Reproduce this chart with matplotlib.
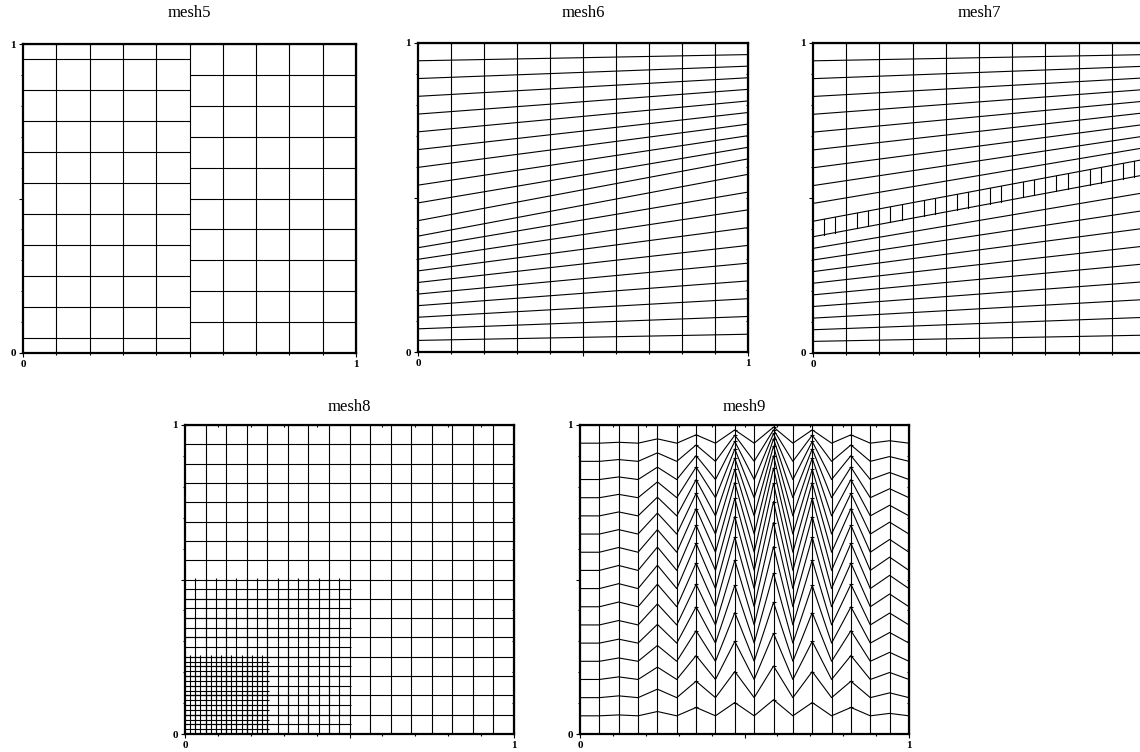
import numpy as np
import matplotlib.pyplot as plt

plt.rcParams['font.family'] = ['Liberation Serif', 'DejaVu Serif']

W, H = 1140, 752

# mesh5: two non-matching halves
mesh5_split = 0.5
mesh5_cols_left = [0.1, 0.2, 0.3, 0.4]
mesh5_cols_right = [0.6, 0.7, 0.8, 0.9]
mesh5_rows_left = [0.05, 0.15, 0.25, 0.35, 0.45, 0.55, 0.65, 0.75, 0.85, 0.95]
mesh5_rows_right = [0.1, 0.2, 0.3, 0.4, 0.5, 0.6, 0.7, 0.8, 0.9]

# mesh6 / mesh7: oblique thin layer between two sloped lines
oblique_cols = 10
band_left = (0.375, 0.425)
band_right = (0.575, 0.625)
cells_below = 10
cells_above = 10
band_subdiv = 3          # mesh7 splits each layer cell in three

# mesh8: nested local refinement (cells per side, extent of the patch)
mesh8_levels = [(16, 1.0), (32, 0.5), (64, 0.25)]

# mesh9: zigzag, amplitude of the vertical node shift on each vertical line
# (shift = amplitude * sin(pi*y), so it vanishes on the top/bottom sides)
mesh9_n = 17
mesh9_amp = [0, 0, 0.016, 0, 0.076, 0, 0.147, 0, 0.234, 0,
             0.283, 0, 0.234, 0, 0.147, 0, 0.043, 0]

# pixel boxes (left, top, right, bottom) and title centres
boxes = {
    'mesh5': (23, 44, 356, 353),
    'mesh6': (418, 43, 748, 352),
    'mesh7': (813, 43, 1145, 353),
    'mesh8': (185, 425, 514, 734),
    'mesh9': (580, 425, 909, 734),
}
title_y = {'mesh5': 13, 'mesh6': 13, 'mesh7': 13, 'mesh8': 407, 'mesh9': 407}

LW = 0.8
LC = 'black'

fig = plt.figure(figsize=(W / 100, H / 100), dpi=100)


def make_axes(name, xlabels=('0', '', '1')):
    l, t, r, b = boxes[name]
    ax = fig.add_axes([l / W, 1 - b / H, (r - l) / W, (b - t) / H])
    ax.set_xlim(0, 1)
    ax.set_ylim(0, 1)
    minor = np.round(np.arange(0, 1.01, 0.1), 2)
    ax.set_xticks([0, 0.5, 1], list(xlabels))
    ax.set_yticks([0, 0.5, 1], ['0', '', '1'])
    ax.set_xticks(minor, minor=True)
    ax.set_yticks(minor, minor=True)
    ax.tick_params(which='major', length=3.2, width=0.8, direction='out',
                   labelsize=8, pad=2)
    ax.tick_params(which='minor', length=1.5, width=0.8, direction='out')
    for lab in ax.get_xticklabels() + ax.get_yticklabels():
        lab.set_fontweight('bold')
    for s in ax.spines.values():
        s.set_linewidth(1.6)
    # inward ticks on the top and right sides
    top = ax.secondary_xaxis('top')
    top.set_xticks(minor)
    top.tick_params(direction='in', length=1.5, width=0.8, labeltop=False)
    right = ax.secondary_yaxis('right')
    right.set_yticks(minor)
    right.tick_params(direction='in', length=1.5, width=0.8, labelright=False)
    fig.text((l + r) / 2 / W, 1 - title_y[name] / H, name,
             ha='center', va='center', fontsize=12)
    return ax


# mesh5
ax = make_axes('mesh5')
ax.vlines(mesh5_split, 0, 1, color=LC, lw=LW)
ax.vlines(mesh5_cols_left, 0, 1, color=LC, lw=LW)
ax.vlines(mesh5_cols_right, 0, 1, color=LC, lw=LW)
ax.hlines(mesh5_rows_left, 0, mesh5_split, color=LC, lw=LW)
ax.hlines(mesh5_rows_right, mesh5_split, 1, color=LC, lw=LW)


def oblique(ax, layered):
    xs = np.linspace(0, 1, oblique_cols + 1)
    ax.vlines(xs[1:-1], 0, 1, color=LC, lw=LW)
    lo_l = np.linspace(0, band_left[0], cells_below + 1)[1:]
    lo_r = np.linspace(0, band_right[0], cells_below + 1)[1:]
    up_l = np.linspace(band_left[1], 1, cells_above + 1)[:-1]
    up_r = np.linspace(band_right[1], 1, cells_above + 1)[:-1]
    for yl, yr in zip(np.r_[lo_l, up_l], np.r_[lo_r, up_r]):
        ax.plot([0, 1], [yl, yr], color=LC, lw=LW)
    if layered:
        fine = np.linspace(0, 1, oblique_cols * band_subdiv + 1)[1:-1]
        fine = [x for i, x in enumerate(fine, 1) if i % band_subdiv]
        for x in fine:
            y0 = band_left[0] + (band_right[0] - band_left[0]) * x
            y1 = band_left[1] + (band_right[1] - band_left[1]) * x
            ax.plot([x, x], [y0, y1], color=LC, lw=LW)


oblique(make_axes('mesh6'), False)
# the right edge of mesh7 runs past the figure, so no "1" label there
oblique(make_axes('mesh7', xlabels=('0', '', '')), True)

# mesh8
ax = make_axes('mesh8')
for n, ext in mesh8_levels:
    k = int(round(n * ext))
    pos = np.linspace(0, 1, n + 1)[1:k]
    over = 0.006 if ext < 1 else 0
    ax.vlines(pos, 0, ext + over, color=LC, lw=LW)
    ax.hlines(pos, 0, ext + over, color=LC, lw=LW)

# mesh9
ax = make_axes('mesh9')
xs = np.linspace(0, 1, mesh9_n + 1)
ax.vlines(xs[1:-1], 0, 1, color=LC, lw=LW)
amp = np.array(mesh9_amp)
for j in range(1, mesh9_n):
    yj = j / mesh9_n
    ys = yj + amp * np.sin(np.pi * yj)
    ax.plot(xs, ys, color=LC, lw=LW)
    peaks = amp > 0.1
    ax.plot(xs[peaks], ys[peaks], ls='none', marker='_', ms=3,
            mew=0.8, color=LC)

fig.savefig('out.png', dpi=100)
